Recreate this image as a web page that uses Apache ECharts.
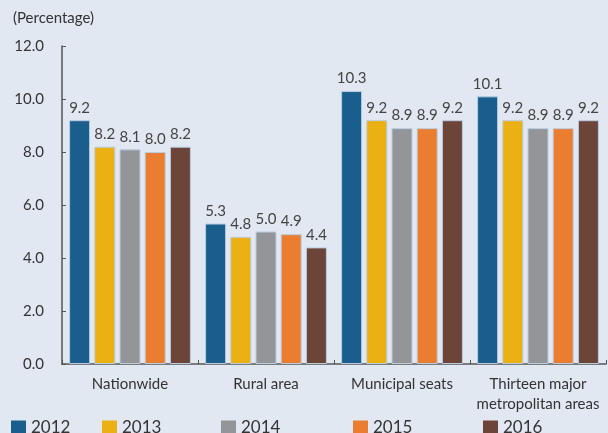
<!DOCTYPE html>
<html>
<head>
<meta charset="utf-8">
<script src="https://cdn.jsdelivr.net/npm/echarts@6/dist/echarts.min.js"></script>
<style>
  html, body { margin: 0; padding: 0; background: #e1e8f2; }
  #chart { width: 608px; height: 433px; }
</style>
</head>
<body>
<div id="chart"></div>
<script>
var categories = ['Nationwide', 'Rural area', 'Municipal seats', 'Thirteen major\nmetropolitan areas'];
var years = ['2012', '2013', '2014', '2015', '2016'];
var v2012 = [9.2, 5.3, 10.3, 10.1];
var v2013 = [8.2, 4.8, 9.2, 9.2];
var v2014 = [8.1, 5.0, 8.9, 8.9];
var v2015 = [8.0, 4.9, 8.9, 8.9];
var v2016 = [8.2, 4.4, 9.2, 9.2];
var yTicks = [0, 2, 4, 6, 8, 10, 12];

var colors = ['#1a5e8e', '#ebb012', '#939598', '#ea7d30', '#6d4538'];
var values = [v2012, v2013, v2014, v2015, v2016];
var legendLeft = [6, 97, 216, 348, 478];
var font = 'Lato, "Open Sans", sans-serif';

var chart = echarts.init(document.getElementById('chart'));

var series = years.map(function (y, i) {
  return {
    name: y,
    type: 'bar',
    data: values[i],
    barWidth: 21,
    barGap: '20%',
    itemStyle: {
      color: colors[i],
      borderColor: '#b9cde2',
      borderWidth: 1
    },
    label: {
      show: true,
      position: 'top',
      distance: 5,
      color: '#444',
      fontSize: 15,
      fontFamily: font,
      formatter: function (p) { return p.value.toFixed(1) }
    },
    animation: false
  }
});

var legends = years.map(function (y, i) {
  return {
    data: [y],
    left: legendLeft[i],
    top: 414,
    itemWidth: 15,
    itemHeight: 14,
    itemGap: 0,
    icon: 'rect',
    itemStyle: { borderWidth: 0 },
    textStyle: { fontSize: 17, color: '#333', fontFamily: font, padding: [8, 0, 0, 0] },
    selectedMode: false
  }
});

chart.setOption({
  backgroundColor: '#e1e8f2',
  title: {
    text: '(Percentage)',
    left: 8,
    top: 6,
    textStyle: { fontSize: 15, fontWeight: 'normal', color: '#333', fontFamily: font }
  },
  legend: legends,
  grid: {
    left: 62,
    right: 2,
    top: 46,
    bottom: 69
  },
  xAxis: {
    type: 'category',
    data: categories,
    axisLine: { lineStyle: { color: '#555', width: 1.5 } },
    axisTick: { show: true, inside: true, length: 4, lineStyle: { color: '#555' } },
    axisLabel: {
      interval: 0,
      color: '#333',
      fontSize: 15,
      fontFamily: font,
      margin: 10,
      lineHeight: 20
    }
  },
  yAxis: {
    type: 'value',
    min: yTicks[0],
    max: yTicks[yTicks.length - 1],
    interval: 2,
    splitLine: { show: false },
    axisLine: { show: true, lineStyle: { color: '#555', width: 1.5 } },
    axisTick: { show: true, inside: true, length: 4, lineStyle: { color: '#555' } },
    axisLabel: {
      color: '#333',
      fontSize: 15,
      fontFamily: font,
      margin: 18,
      formatter: function (v) { return v.toFixed(1) }
    }
  },
  series: series
});
</script>
</body>
</html>
